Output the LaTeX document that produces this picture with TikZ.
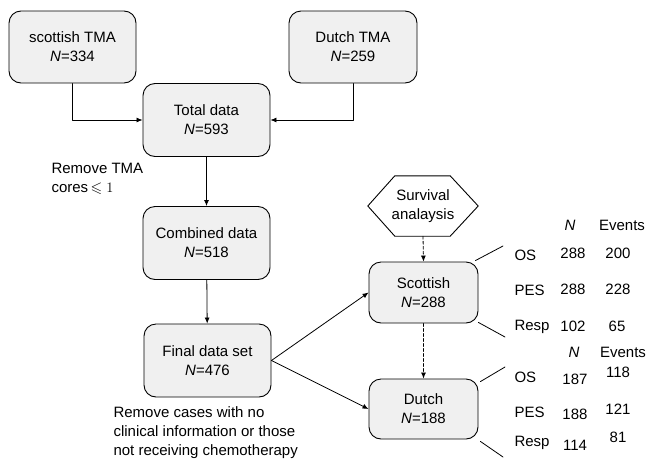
\documentclass[tikz,border=0pt]{standalone}
\usepackage{amssymb}
\usepackage{fontspec}
\setmainfont{Liberation Sans}
\usetikzlibrary{arrows.meta}
\definecolor{boxgray}{HTML}{F0F0F0}
\tikzset{
  databox/.style={draw, fill=boxgray, rounded corners=12pt, line width=0.9pt,
    align=center, inner sep=0pt},
  flow/.style={-{Latex[length=6pt,width=5pt]}, line width=0.8pt},
  dflow/.style={flow, densely dashed},
  tick/.style={line width=0.8pt},
}

\begin{document}
\begin{tikzpicture}[x=1pt,y=-1pt,line cap=round,line join=round,
  font=\fontsize{15}{19}\selectfont]
  \useasboundingbox (0,0) rectangle (650,461);

  % Cohorts
  \node[databox, minimum width=127pt, minimum height=72pt] (stma) at (72.5,47) {scottish TMA\\\textit{N}=334};
  \node[databox, minimum width=128pt, minimum height=72pt] (dtma) at (353,47) {Dutch TMA\\\textit{N}=259};

  % Main flow
  \node[databox, minimum width=127pt, minimum height=73pt] (total) at (206.5,120) {Total data\\\textit{N}=593};
  \node[databox, minimum width=127pt, minimum height=73pt] (comb) at (206.5,243) {Combined data\\\textit{N}=518};
  \node[databox, minimum width=127pt, minimum height=73pt] (final) at (207.5,360.5) {Final data set\\\textit{N}=476};

  % Survival analysis
  \node[minimum width=110pt, minimum height=60pt, align=center, inner sep=0pt] (surv) at (423,206) {Survival\\analaysis};
  \draw[line width=0.9pt] (surv.west) -- ([xshift=27pt]surv.north west) -- ([xshift=-28pt]surv.north east)
    -- (surv.east) -- ([xshift=-28pt]surv.south east) -- ([xshift=27pt]surv.south west) -- cycle;
  \node[databox, minimum width=109pt, minimum height=61pt] (scot) at (423.5,292.5) {Scottish\\\textit{N}=288};
  \node[databox, minimum width=109pt, minimum height=60pt] (dutch) at (423.5,409) {Dutch\\\textit{N}=188};

  % Notes
  \node[anchor=west, align=left] (rmtma) at (48,179) {Remove TMA\\cores$\,\leqslant 1$};
  \node[anchor=west, align=left] (rmcase) at (110,433) {Remove cases with no\\clinical information or those\\not receiving chemotherapy};

  % Connectors
  \draw[flow] (stma.south) |- (total.west);
  \draw[flow] (dtma.south) |- (total.east);
  \draw[flow] (total) -- (comb);
  \draw[flow] (comb) -- (final);
  \draw[flow] (final.east) -- (scot.west);
  \draw[flow] (final.east) -- (dutch.west);
  \draw[dflow] (surv.south) -- (scot.north);
  \draw[dflow] (scot.south) -- (dutch.north);

  % Ticks to the tables
  \coordinate (sa) at (503,246);
  \coordinate (sb) at (505,337);
  \coordinate (da) at (505,367);
  \coordinate (db) at (503,457);
  \draw[tick] ([xshift=-3pt,yshift=1pt]scot.north east) -- (sa);
  \draw[tick] ([yshift=1pt]scot.south east) -- (sb);
  \draw[tick] ([xshift=2pt,yshift=-3pt]dutch.north east) -- (da);
  \draw[tick] ([xshift=2pt,yshift=-2pt]dutch.south east) -- (db);

  % Scottish table
  \node (sN) at (570,225) {\textit{N}};
  \node (sEv) at (622,225) {Events};
  \node[anchor=west] (sOS) at (511,255) {OS};
  \node (sOSn) at (573,253) {288};
  \node (sOSe) at (618,253) {200};
  \node[anchor=west] (sPES) at (511,290) {PES};
  \node (sPESn) at (573,289) {288};
  \node (sPESe) at (618,289) {228};
  \node[anchor=west] (sResp) at (511,327) {Resp};
  \node (sRespn) at (573,326) {102};
  \node (sRespe) at (617,326) {65};

  % Dutch table
  \node (dN) at (574,352) {\textit{N}};
  \node (dEv) at (623,352) {Events};
  \node[anchor=west] (dOS) at (511,377) {OS};
  \node (dOSn) at (575,379) {187};
  \node (dOSe) at (618,372) {118};
  \node[anchor=west] (dPES) at (511,412) {PES};
  \node (dPESn) at (575,414) {188};
  \node (dPESe) at (618,409) {121};
  \node[anchor=west] (dResp) at (511,443) {Resp};
  \node (dRespn) at (575,445) {114};
  \node (dRespe) at (618,437) {81};
\end{tikzpicture}
\end{document}
